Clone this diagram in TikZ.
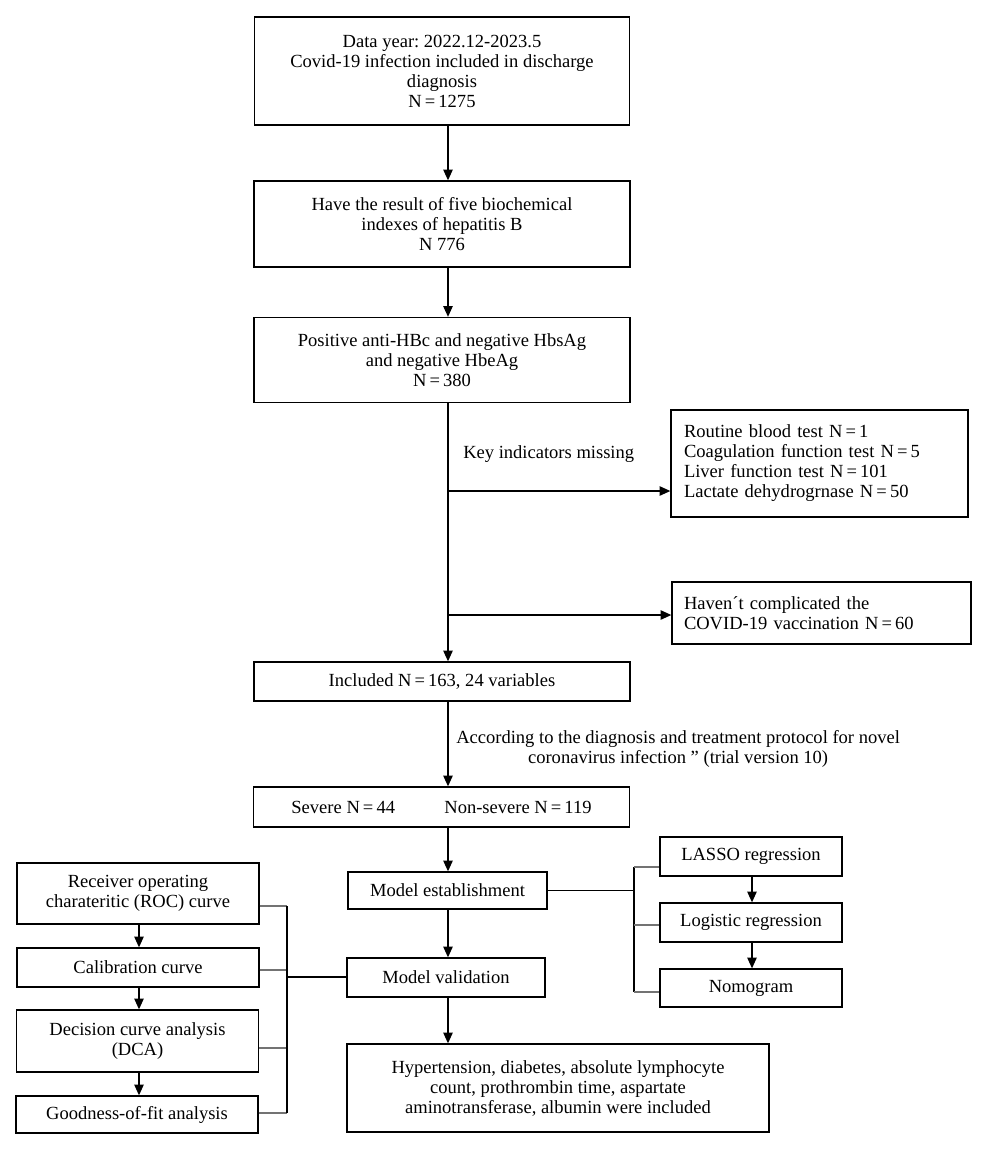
\documentclass[tikz,border=0pt]{standalone}
\usepackage{fontspec}
\setmainfont{Liberation Serif}
\usetikzlibrary{arrows.meta,calc}
\frenchspacing
\begin{document}
\begin{tikzpicture}[x=0.75pt,y=-0.75pt,
  box/.style={draw,line width=1pt,align=center,inner sep=0pt,font=\fontsize{13.9}{15}\selectfont},
  lbl/.style={align=center,inner sep=0pt,font=\fontsize{13.9}{15}\selectfont},
  arr/.style={line width=1pt,-{Triangle[length=8pt,width=7pt]}},
  ln/.style={line width=1pt},
  tick/.style={line width=1pt,draw=black!55}]
\useasboundingbox (0,0) rectangle (1000,1158);

\coordinate (m) at (448,0);
\coordinate (la) at (139,0);
\coordinate (ra) at (752,0);

% main column
\node[box,minimum width=281.25pt,minimum height=81pt] (b1) at (442,71)
  {Data year: 2022.12-2023.5\\Covid-19 infection included in discharge\\diagnosis\\N\,=\,1275};
\node[box,minimum width=282pt,minimum height=64.5pt] (b2) at (442,224)
  {Have the result of five biochemical\\indexes of hepatitis B\\N 776};
\node[box,minimum width=282pt,minimum height=63.75pt] (b3) at (442,360)
  {Positive anti-HBc and negative HbsAg\\and negative HbeAg\\N\,=\,380};
\node[box,align=left,inner xsep=9.75pt,text width=203.25pt,minimum height=80.25pt] (b4) at (819.5,463.5)
  {Routine blood test N\,=\,1\\Coagulation function test N\,=\,5\\Liver function test N\,=\,101\\Lactate dehydrogrnase N\,=\,50};
\node[box,align=left,inner xsep=9pt,text width=206.25pt,minimum height=46.5pt] (b5) at (821.5,613)
  {Haven´t complicated the\\COVID-19 vaccination N\,=\,60};
\node[box,minimum width=282pt,minimum height=29.25pt] (b6) at (442,681.5)
  {Included N\,=\,163, 24 variables};
\node[box,minimum width=282pt,minimum height=30pt] (b7) at (441.5,807)
  {Severe N\,=\,44\hspace{37pt}Non-severe N\,=\,119};

\node[lbl,anchor=west] (k1) at (463,454) {Key indicators missing};
\node[lbl,anchor=west] (k2) at (456,749)
  {According to the diagnosis and treatment protocol for novel\\coronavirus infection ” (trial version 10)};

\coordinate (j1) at (448,491);
\coordinate (j2) at (448,615);
\draw[arr] (b1.south -| m) -- (b2.north -| m);
\draw[arr] (b2.south -| m) -- (b3.north -| m);
\draw[arr] (b3.south -| m) -- (b6.north -| m);
\draw[arr] (j1) -- (j1 -| b4.west);
\draw[arr] (j2) -- (j2 -| b5.west);
\draw[arr] (b6.south -| m) -- (b7.north -| m);

% model column
\node[box,minimum width=149.25pt,minimum height=27.75pt] (me) at (447.5,890.5) {Model establishment};
\node[box,minimum width=148.5pt,minimum height=29.25pt] (mv) at (446,977.5) {Model validation};
\node[box,minimum width=316.5pt,minimum height=66pt] (fin) at (558,1088)
  {Hypertension, diabetes, absolute lymphocyte\\count, prothrombin time, aspartate\\aminotransferase, albumin were included};
\draw[arr] (b7.south -| m) -- (me.north -| m);
\draw[arr] (me.south -| m) -- (mv.north -| m);
\draw[arr] (mv.south -| m) -- (fin.north -| m);

% right column
\node[box,minimum width=136.5pt,minimum height=29.25pt] (lasso) at (751,856.5) {LASSO regression};
\node[box,minimum width=136.5pt,minimum height=29.25pt] (logi) at (751,922.5) {Logistic regression};
\node[box,minimum width=136.5pt,minimum height=28.5pt] (nomo) at (751,988) {Nomogram};
\draw[arr] (lasso.south -| ra) -- (logi.north -| ra);
\draw[arr] (logi.south -| ra) -- (nomo.north -| ra);
\coordinate (t1) at (634,867);
\coordinate (t2) at (634,925);
\coordinate (t3) at (634,992);
\draw[ln] (me.east) -- (me.east -| t1);
\draw[ln] (t1) -- (t3);
\draw[tick] (t1) -- (t1 -| lasso.west);
\draw[tick] (t2) -- (t2 -| logi.west);
\draw[tick] (t3) -- (t3 -| nomo.west);

% left column
\node[box,minimum width=181.5pt,minimum height=45.75pt] (roc) at (138,893.5)
  {Receiver operating\\charateritic (ROC) curve};
\node[box,minimum width=181.5pt,minimum height=29.25pt] (cal) at (138,967.5) {Calibration curve};
\node[box,minimum width=181.5pt,minimum height=46.5pt] (dca) at (137.5,1041)
  {Decision curve analysis\\(DCA)};
\node[box,minimum width=181.5pt,minimum height=27.75pt] (gof) at (137,1114.5) {Goodness-of-fit analysis};
\draw[arr] (roc.south -| la) -- (cal.north -| la);
\draw[arr] (cal.south -| la) -- (dca.north -| la);
\draw[arr] (dca.south -| la) -- (gof.north -| la);
\coordinate (u1) at (287,906);
\coordinate (u2) at (287,970);
\coordinate (u3) at (287,1048);
\coordinate (u4) at (287,1113);
\coordinate (u5) at (287,977);
\draw[tick] (u1 -| roc.east) -- (u1);
\draw[tick] (u2 -| cal.east) -- (u2);
\draw[tick] (u3 -| dca.east) -- (u3);
\draw[tick] (u4 -| gof.east) -- (u4);
\draw[ln] (u1) -- (u4);
\draw[ln] (u5) -- (u5 -| mv.west);
\end{tikzpicture}
\end{document}
